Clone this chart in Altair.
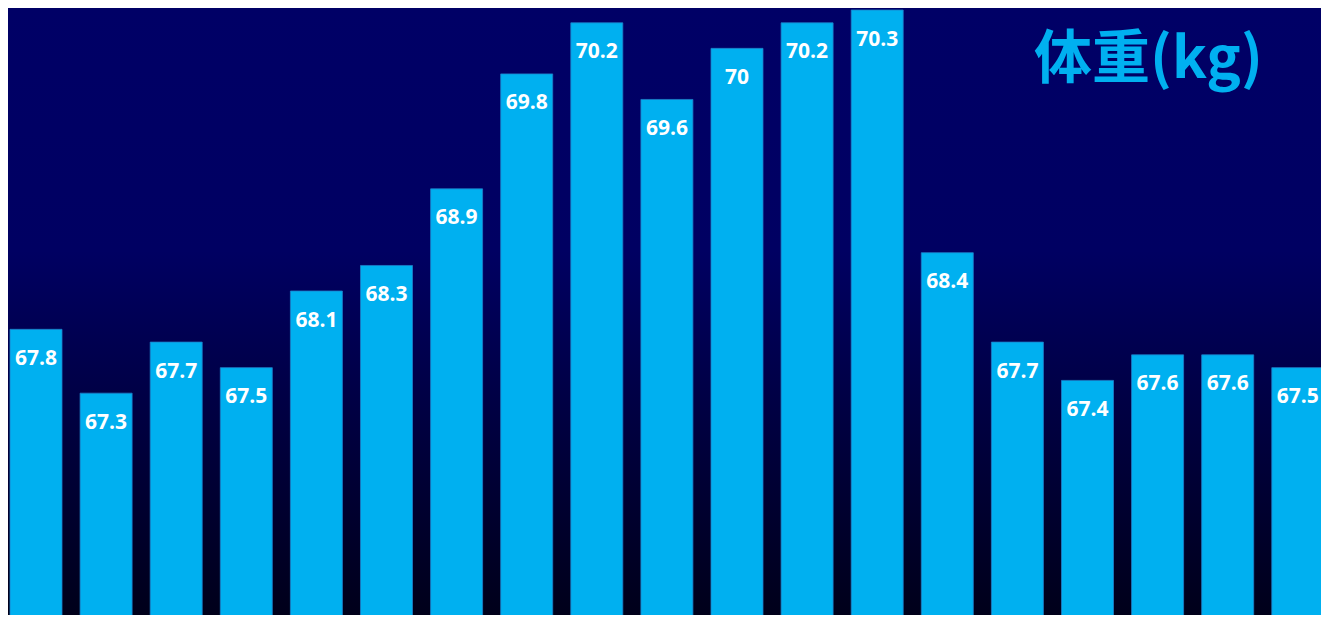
import altair as alt
import pandas as pd

labels = [str(i) for i in range(1, 20)]
weights = [67.8, 67.3, 67.7, 67.5, 68.1, 68.3, 68.9, 69.8, 70.2, 69.6,
           70.0, 70.2, 70.3, 68.4, 67.7, 67.4, 67.6, 67.6, 67.5]
title_text = ["体重(kg)"]

df = pd.DataFrame({"idx": labels, "w": weights,
                   "lbl": [("%g" % v) for v in weights]})

W, H = 1313, 607
BAR = "#00B0F0"

xscale = alt.Scale(domain=labels, range=[2, 1315.8], paddingInner=0.258, paddingOuter=0)
yscale = alt.Scale(domain=[65.563, 70.316], zero=False, nice=False)

bg = alt.Chart(alt.Data(values=[{"a": 1}])).mark_rect(
    color=alt.Gradient(
        gradient="linear", x1=0, x2=0, y1=0, y2=1,
        stops=[alt.GradientStop(offset=0, color="#000066"),
               alt.GradientStop(offset=0.4, color="#000062"),
               alt.GradientStop(offset=1, color="#00001A")]
    )
).encode(x=alt.value(0), x2=alt.value(W), y=alt.value(0), y2=alt.value(H))

base = alt.Chart(df)

bars = base.mark_bar(color=BAR, stroke="#1E7FC8", strokeWidth=0.8, clip=True).encode(
    x=alt.X("idx:N", scale=xscale, axis=None, sort=labels),
    y=alt.Y("w:Q", scale=yscale, axis=None),
    y2=alt.datum(65.0),
)

text = base.mark_text(color="white", font="Open Sans", fontWeight="bold",
                      fontSize=21, baseline="alphabetic", dy=35.5).encode(
    x=alt.X("idx:N", scale=xscale, axis=None, sort=labels),
    y=alt.Y("w:Q", scale=yscale, axis=None),
    text="lbl:N",
)

title = alt.Chart(alt.Data(values=[{"t": title_text[0]}])).mark_text(
    color=BAR, font="Noto Sans CJK JP", fontWeight="bold", fontSize=58,
    align="left", baseline="alphabetic"
).encode(x=alt.value(1026), y=alt.value(70), text="t:N")

chart = alt.layer(bg, bars, text, title).properties(
    width=W, height=H, padding=0, background="#000066"
).configure_view(stroke=None)

chart.save("out.html", embed_options={"renderer": "svg", "actions": False})
